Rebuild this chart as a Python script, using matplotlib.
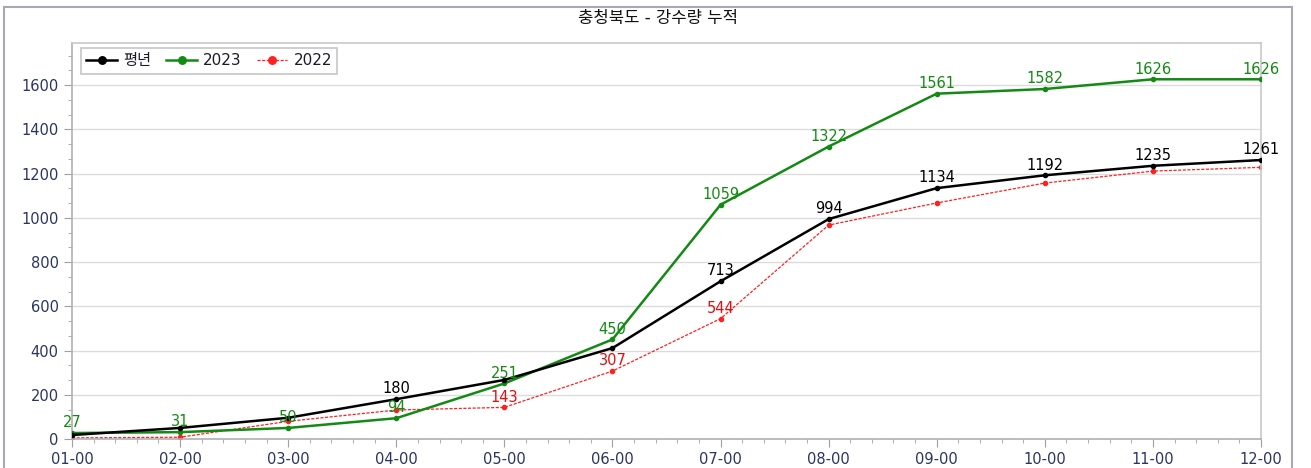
import matplotlib
matplotlib.use("Agg")
import matplotlib.pyplot as plt
from matplotlib.ticker import AutoMinorLocator, MultipleLocator
from matplotlib.patches import Rectangle

plt.rcParams['font.family'] = ['DejaVu Sans', 'Noto Sans CJK KR']

months = ["01-00", "02-00", "03-00", "04-00", "05-00", "06-00",
          "07-00", "08-00", "09-00", "10-00", "11-00", "12-00"]
normal = [18, 50, 96, 180, 267, 411, 713, 994, 1134, 1192, 1235, 1261]
y2023 = [27, 31, 50, 94, 251, 450, 1059, 1322, 1561, 1582, 1626, 1626]
y2022 = [5, 8, 80, 131, 143, 307, 544, 967, 1067, 1157, 1211, 1228]

# which points carry a value label
normal_labeled = [3, 6, 7, 8, 9, 10, 11]
y2023_labeled = list(range(12))
y2022_labeled = [4, 5, 6]

C_BLACK = "#000000"
C_GREEN = "#138a13"
C_RED = "#ff2020"
TICK_COLOR = "#2a3560"

fig = plt.figure(figsize=(13.11, 4.68), dpi=100)
ax = fig.add_axes([72 / 1311, 1 - 439 / 468, (1261 - 72) / 1311, (439 - 43) / 468])

x = list(range(len(months)))
ax.plot(x, normal, color=C_BLACK, lw=1.8, marker="o", ms=3, label="평년", zorder=4)
ax.plot(x, y2023, color=C_GREEN, lw=1.8, marker="o", ms=3, label="2023", zorder=3)
ax.plot(x, y2022, color=C_RED, lw=0.9, ls=(0, (2.5, 1.2)), marker="o", ms=3,
        label="2022", zorder=2)

def annotate(vals, idx, color):
    for i in idx:
        ax.annotate(str(vals[i]), (x[i], vals[i]), xytext=(0, 2),
                    textcoords="offset points", ha="center", va="bottom",
                    fontsize=10.5, color=color, zorder=6)

annotate(normal, normal_labeled, C_BLACK)
annotate(y2023, y2023_labeled, C_GREEN)
annotate(y2022, y2022_labeled, "#e01010")

ax.set_xlim(0, 11)
ax.set_ylim(0, 1790)
ax.set_xticks(x)
ax.set_xticklabels(months)
ax.yaxis.set_major_locator(MultipleLocator(200))
ax.yaxis.set_minor_locator(AutoMinorLocator(3))
ax.xaxis.set_minor_locator(AutoMinorLocator(5))
ax.grid(axis="y", which="major", color="#dcdcdc", lw=1.0)
ax.set_axisbelow(True)

for s in ["top", "right"]:
    ax.spines[s].set_color("#c8c8c8")
for s in ["left", "bottom"]:
    ax.spines[s].set_color("#b0b0b0")
for s in ax.spines.values():
    s.set_linewidth(1.2)

ax.tick_params(axis="both", which="major", labelsize=10.5, labelcolor=TICK_COLOR,
               color="#a0a0a0", length=6)
ax.tick_params(axis="both", which="minor", color="#a0a0a0", length=3)
ax.tick_params(axis="x", pad=3)

leg = ax.legend(loc="upper left", bbox_to_anchor=(0.005, 0.995), ncol=3,
                frameon=True, fancybox=False, fontsize=11, handlelength=2.0,
                handletextpad=0.4, columnspacing=1.0, borderpad=0.35,
                borderaxespad=0.2, markerscale=1.8)
leg.get_frame().set_edgecolor("#b8b8b8")
leg.get_frame().set_linewidth(1.2)
for t in leg.get_texts():
    t.set_color("#1a1a2a")

fig.text(658 / 1311, 1 - 18 / 468, "충청북도 - 강수량 누적", ha="center",
         va="center", fontsize=12, color="#111111")

# outer panel border
fig.patches.append(Rectangle((4 / 1311, -0.05), (1292 - 4) / 1311, 1 - 7 / 468 + 0.05,
                             transform=fig.transFigure, fill=False,
                             edgecolor="#a8a8b0", lw=1.5, zorder=0))

fig.savefig("out.png", dpi=100)
